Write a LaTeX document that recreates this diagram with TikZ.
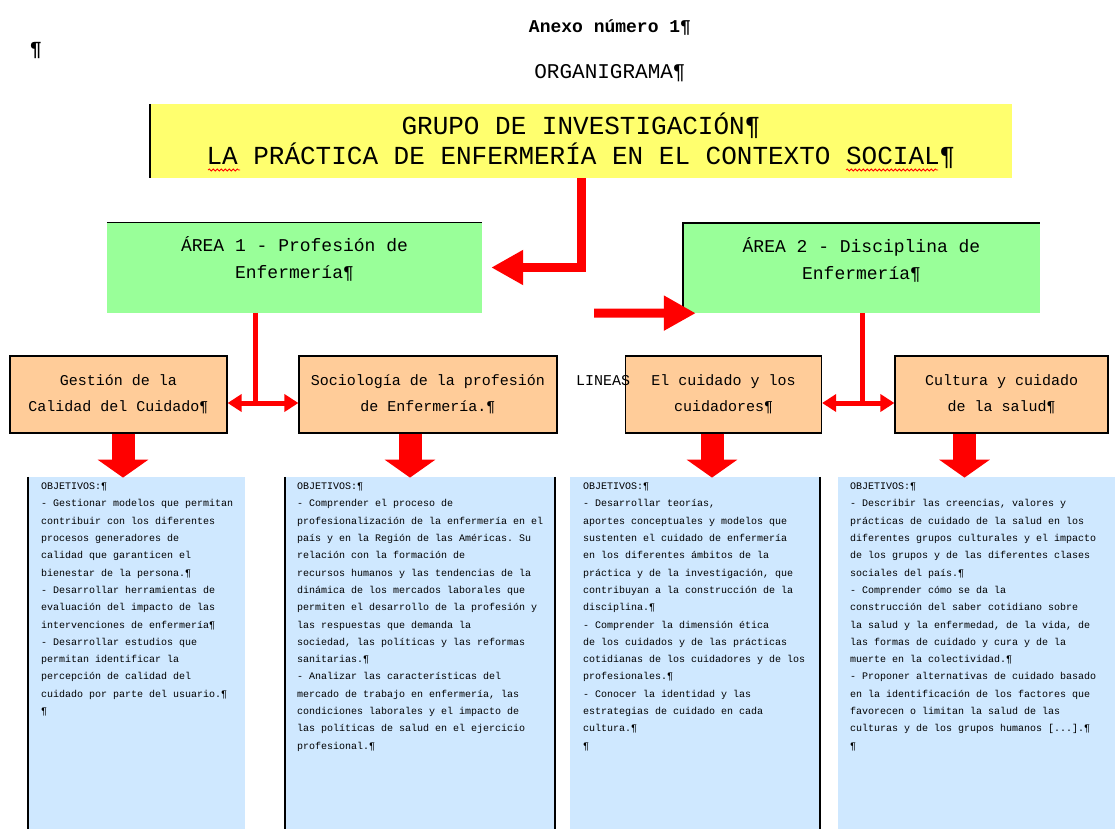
\documentclass[tikz,border=0pt]{standalone}
\usepackage{fontspec}
\setmonofont{Liberation Mono}
\usetikzlibrary{arrows.meta,decorations.pathmorphing}

\definecolor{amarillo}{RGB}{255,255,110}
\definecolor{verde}{RGB}{153,255,153}
\definecolor{naranja}{RGB}{255,204,153}
\definecolor{celeste}{RGB}{207,232,255}
\definecolor{rojo}{RGB}{255,0,0}

\tikzset{
  caja/.style={inner sep=0pt, align=center},
  grupo/.style={caja, fill=amarillo, minimum width=862pt, minimum height=74pt,
    font=\ttfamily\fontsize{26}{30}\selectfont},
  area/.style={caja, fill=verde, minimum height=90pt},
  areatxt/.style={caja, font=\ttfamily\fontsize{18}{27}\selectfont},
  linea/.style={caja, fill=naranja, draw=black, line width=1.2pt, minimum height=77pt,
    font=\ttfamily\fontsize{15}{26}\selectfont},
  objetivos/.style={caja, fill=celeste, minimum height=352pt},
  objtxt/.style={inner sep=0pt, align=left, anchor=north west,
    font=\ttfamily\fontsize{10}{17.3}\selectfont},
  borde/.style={line width=1.5pt, black},
  flechagruesa/.style={draw=rojo, line width=9pt, -{Triangle[width=33pt,length=32pt]}},
  flechadoble/.style={draw=rojo, line width=5pt,
    {Triangle[width=17pt,length=14pt]}-{Triangle[width=17pt,length=14pt]}},
  bloque/.style={draw=rojo, line width=23pt, -{Triangle[width=50pt,length=18pt]}},
  ortografia/.style={draw=rojo, line width=0.8pt, decorate,
    decoration={snake, amplitude=1pt, segment length=4pt}}
}

\begin{document}
\begin{tikzpicture}[x=1pt,y=-1pt]
\useasboundingbox (0,0) rectangle (1115,829);

% titles
\node[font=\ttfamily\bfseries\fontsize{18}{20}\selectfont] (anexo) at (610,28) {Anexo número 1¶};
\node[font=\ttfamily\fontsize{21}{24}\selectfont] (organigrama) at (610,73) {ORGANIGRAMA¶};
\node[font=\ttfamily\bfseries\fontsize{20}{22}\selectfont] (marca) at (36,50) {¶};

% the group
\node[grupo] (grupo) at (581,141) {GRUPO DE INVESTIGACIÓN¶\\LA PRÁCTICA DE ENFERMERÍA EN EL CONTEXTO SOCIAL¶};
\draw[borde] (grupo.north west) -- (grupo.south west);
\draw[ortografia] (208,170) -- (240,170);
\draw[ortografia] (846,170) -- (938,170);

% two areas
\node[area, minimum width=375pt] (area1) at (294.5,267.5) {};
\node[areatxt] (txtarea1) at ([yshift=8.5pt]area1) {ÁREA 1 - Profesión de\\Enfermería¶};
\draw[borde] (area1.north west) -- (area1.north east);
\node[area, minimum width=357pt] (area2) at (861.5,268) {};
\node[areatxt] (txtarea2) at ([yshift=8.5pt]area2) {ÁREA 2 - Disciplina de\\Enfermería¶};
\draw[borde] (area2.south west) -- (area2.north west) -- (area2.north east);

% arrows from the group
\draw[flechagruesa] (grupo.south) |- ([xshift=9pt]area1.east);
\coordinate (inicio) at (594,313);
\draw[flechagruesa] (inicio) -- ([xshift=13pt]area2.south west);

% four lines
\node[linea, minimum width=217pt] (linea1) at (118.5,394.5) {Gestión de la\\Calidad del Cuidado¶};
\node[linea, minimum width=258pt] (linea2) at (428,394.5) {Sociología de la profesión\\de Enfermería.¶};
\node[linea, minimum width=196pt] (linea3) at (723.5,394.5) {El cuidado y los\\cuidadores¶};
\node[linea, minimum width=213pt] (linea4) at (1001.5,394.5) {Cultura y cuidado\\de la salud¶};
\node[font=\ttfamily\fontsize{15}{18}\selectfont, inner sep=0pt] (lineas) at (603,381) {LINEAS};

% links area - lines
\coordinate (union1) at (255,403);
\coordinate (union2) at (862,403);
\draw[draw=rojo, line width=5pt] (area1.south -| union1) -- (union1);
\draw[flechadoble] (linea1.east |- union1) -- (linea2.west |- union1);
\draw[draw=rojo, line width=5pt] (area2.south -| union2) -- (union2);
\draw[flechadoble] (linea3.east |- union2) -- (linea4.west |- union2);

% objectives
\node[objetivos, minimum width=217pt] (obj1) at (136.5,653) {};
\node[objetivos, minimum width=270pt] (obj2) at (420,653) {};
\node[objetivos, minimum width=250pt] (obj3) at (695,653) {};
\node[objetivos, minimum width=277pt] (obj4) at (976.5,653) {};
\draw[borde] (obj1.north west) -- (obj1.south west);
\draw[borde] (obj2.north west) -- (obj2.south west);
\draw[borde] (obj2.north east) -- (obj2.south east);
\draw[borde] (obj3.north east) -- (obj3.south east);

\draw[bloque] ([xshift=4.5pt]linea1.south) -- ++(0,44);
\draw[bloque] ([xshift=-18pt]linea2.south) -- ++(0,44);
\draw[bloque] ([xshift=-11.5pt]linea3.south) -- ++(0,44);
\draw[bloque] ([xshift=-37pt]linea4.south) -- ++(0,44);

\node[objtxt] (txtobj1) at ([xshift=13pt,yshift=-6pt]obj1.north west) {OBJETIVOS:¶\\
- Gestionar modelos que permitan\\
contribuir con los diferentes\\
procesos generadores de\\
calidad que garanticen el\\
bienestar de la persona.¶\\
- Desarrollar herramientas de\\
evaluación del impacto de las\\
intervenciones de enfermería¶\\
- Desarrollar estudios que\\
permitan identificar la\\
percepción de calidad del\\
cuidado por parte del usuario.¶\\
¶};
\node[objtxt] (txtobj2) at ([xshift=12pt,yshift=-6pt]obj2.north west) {OBJETIVOS:¶\\
- Comprender el proceso de\\
profesionalización de la enfermería en el\\
país y en la Región de las Américas. Su\\
relación con la formación de\\
recursos humanos y las tendencias de la\\
dinámica de los mercados laborales que\\
permiten el desarrollo de la profesión y\\
las respuestas que demanda la\\
sociedad, las políticas y las reformas\\
sanitarias.¶\\
- Analizar las características del\\
mercado de trabajo en enfermería, las\\
condiciones laborales y el impacto de\\
las políticas de salud en el ejercicio\\
profesional.¶};
\node[objtxt] (txtobj3) at ([xshift=13pt,yshift=-6pt]obj3.north west) {OBJETIVOS:¶\\
- Desarrollar teorías,\\
aportes conceptuales y modelos que\\
sustenten el cuidado de enfermería\\
en los diferentes ámbitos de la\\
práctica y de la investigación, que\\
contribuyan a la construcción de la\\
disciplina.¶\\
- Comprender la dimensión ética\\
de los cuidados y de las prácticas\\
cotidianas de los cuidadores y de los\\
profesionales.¶\\
- Conocer la identidad y las\\
estrategias de cuidado en cada\\
cultura.¶\\
¶};
\node[objtxt] (txtobj4) at ([xshift=12pt,yshift=-6pt]obj4.north west) {OBJETIVOS:¶\\
- Describir las creencias, valores y\\
prácticas de cuidado de la salud en los\\
diferentes grupos culturales y el impacto\\
de los grupos y de las diferentes clases\\
sociales del país.¶\\
- Comprender cómo se da la\\
construcción del saber cotidiano sobre\\
la salud y la enfermedad, de la vida, de\\
las formas de cuidado y cura y de la\\
muerte en la colectividad.¶\\
- Proponer alternativas de cuidado basado\\
en la identificación de los factores que\\
favorecen o limitan la salud de las\\
culturas y de los grupos humanos [...].¶\\
¶};
\end{tikzpicture}
\end{document}
